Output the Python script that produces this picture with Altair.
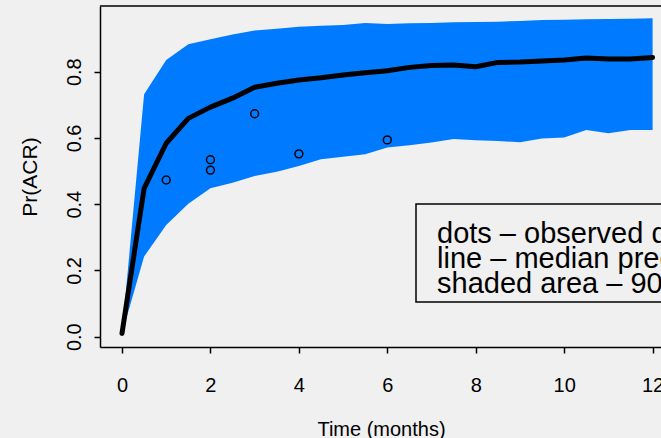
import altair as alt
import pandas as pd

# ---- data ----
months = [0, 0.5, 1, 1.5, 2, 2.5, 3, 3.5, 4, 4.5, 5, 5.5, 6, 6.5, 7, 7.5, 8,
          8.5, 9, 9.5, 10, 10.5, 11, 11.5, 12]
median = [0.010, 0.448, 0.584, 0.659, 0.693, 0.720, 0.753, 0.765, 0.775, 0.782,
          0.790, 0.797, 0.803, 0.813, 0.819, 0.820, 0.815, 0.828, 0.829, 0.832,
          0.835, 0.841, 0.838, 0.838, 0.843]
lower = [0.010, 0.242, 0.337, 0.401, 0.448, 0.465, 0.485, 0.498, 0.515, 0.536,
         0.543, 0.551, 0.571, 0.578, 0.586, 0.597, 0.593, 0.591, 0.587, 0.598,
         0.601, 0.624, 0.614, 0.624, 0.624]
upper = [0.010, 0.732, 0.835, 0.883, 0.898, 0.912, 0.924, 0.930, 0.936, 0.939,
         0.941, 0.947, 0.944, 0.946, 0.947, 0.949, 0.950, 0.951, 0.953, 0.956,
         0.957, 0.958, 0.959, 0.960, 0.961]

obs_month = [1, 2, 2, 3, 4, 6]
obs_value = [0.473, 0.534, 0.503, 0.673, 0.552, 0.594]

x_ticks = [0, 2, 4, 6, 8, 10, 12]
y_ticks = [0.0, 0.2, 0.4, 0.6, 0.8]

legend_lines = [
    "dots \u2013 observed data",
    "line \u2013 median prediction",
    "shaded area \u2013 90% prediction interval",
]

# ---- layout ----
W, H = 561, 341
FONT = "Liberation Sans"
BAND = "#007BFF"

pred = pd.DataFrame({"month": months, "median": median, "lower": lower, "upper": upper})
obs = pd.DataFrame({"month": obs_month, "value": obs_value})
leg = pd.DataFrame({"label": legend_lines,
                    "py": [237 + 25 * i for i in range(len(legend_lines))]})

xs = alt.Scale(domain=[-0.4975, 12.19], nice=False, zero=False)
ys = alt.Scale(domain=[-0.0311, 0.9983], nice=False, zero=False)

xaxis = alt.Axis(values=x_ticks, format="d", title="Time (months)",
                 tickSize=6, labelPadding=22, labelFontSize=20,
                 titleFontSize=20, titleX=281, titleY=88,
                 titleBaseline="alphabetic", titleAlign="center")
yaxis = alt.Axis(values=y_ticks, format=".1f", title="Pr(ACR)",
                 tickSize=6, labelPadding=20, labelFontSize=20,
                 labelAngle=270, labelAlign="center", labelBaseline="middle",
                 titleFontSize=21, titleAngle=270, titleX=-64, titleY=H / 2,
                 titleBaseline="alphabetic", titleAlign="center")

band = alt.Chart(pred).mark_area(color=BAND, opacity=1).encode(
    x=alt.X("month:Q", scale=xs, axis=xaxis),
    y=alt.Y("lower:Q", scale=ys, axis=yaxis),
    y2="upper:Q",
)

line = alt.Chart(pred).mark_line(color="black", strokeWidth=5,
                                 strokeCap="round", strokeJoin="round").encode(
    x=alt.X("month:Q", scale=xs),
    y=alt.Y("median:Q", scale=ys),
)

pts = alt.Chart(obs).mark_point(shape="circle", filled=False, color="black",
                                size=62, strokeWidth=1.5, opacity=1).encode(
    x=alt.X("month:Q", scale=xs),
    y=alt.Y("value:Q", scale=ys),
)

top = alt.Chart(pd.DataFrame({"a": [0]})).mark_rule(color="black", strokeWidth=1.5).encode(
    x=alt.value(0), x2=alt.value(W), y=alt.value(0)
)

legbox = alt.Chart(pd.DataFrame({"a": [0]})).mark_rect(
    fill="#f0f0f0", stroke="black", strokeWidth=1.5).encode(
    x=alt.value(316), x2=alt.value(700), y=alt.value(198), y2=alt.value(296)
)

legtext = alt.Chart(leg).mark_text(align="left", baseline="alphabetic",
                                   font=FONT, fontSize=29, color="black").encode(
    x=alt.value(337),
    y=alt.Y("py:Q", scale=None),
    text="label:N",
)

chart = alt.layer(band, line, pts, top, legbox, legtext).properties(
    width=W, height=H,
    autosize=alt.AutoSizeParams(type="none"),
    padding={"left": 100, "top": 6, "right": 0, "bottom": 91},
    background="#f0f0f0",
).configure_view(stroke=None).configure_axis(
    grid=False, domainColor="black", domainWidth=1.5, tickColor="black",
    tickWidth=1.5, labelColor="black", titleColor="black", labelFont=FONT,
    titleFont=FONT, titleFontWeight="normal", labelOverlap=False,
    labelFlush=False,
)

chart.save("out.html", embed_options={"renderer": "svg", "actions": False})
